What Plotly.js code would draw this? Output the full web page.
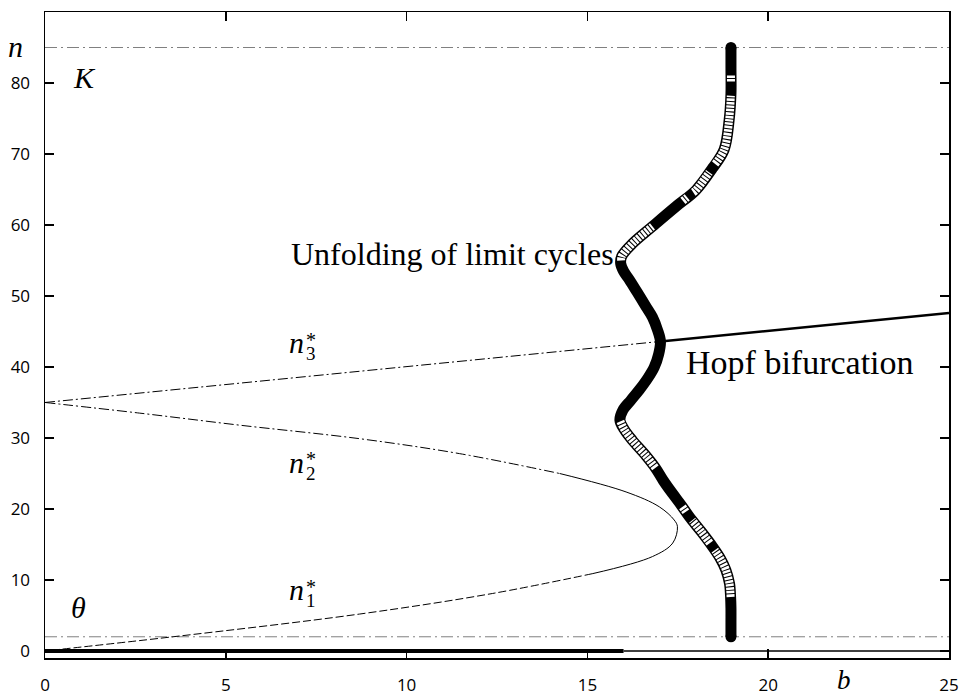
<!DOCTYPE html>
<html>
<head>
<meta charset="utf-8">
<script src="https://cdn.plot.ly/plotly-3.0.1.min.js"></script>
<style>html,body{margin:0;padding:0;background:#fff;}#chart{width:966px;height:697px;}</style>
</head>
<body>
<div id="chart"></div>
<script>
// ---- data ----
const xTicks = [0, 5, 10, 15, 20, 25];
const yTicks = [0, 10, 20, 30, 40, 50, 60, 70, 80, 90];
const K = 85;
const theta = 2;
const bSpan = [0, 25];

// n2* (upper) through the fold to n1* (lower)
const foldB = [0, 2.62, 5.39, 8.70, 11.46, 14.23, 16.07, 16.99, 17.40, 17.49, 17.36, 16.80, 15.15, 12.38, 8.70, 3.54, 0];
const foldN = [35, 33.5, 31.8, 29.9, 27.8, 25.0, 22.4, 20.3, 18.45, 17.5, 15.2, 13.3, 10.9, 8.1, 5.2, 2.0, 0];

// n3* line
const n3B = [0, 17.02, 25];
const n3N = [35, 43.6, 47.6];

// trivial equilibrium n = 0
const zeroB = [0, 16, 25];
const zeroN = [0, 0, 0];

// limit cycle amplitude branch
const cycN = [2.0, 4, 6, 7.6, 9.5, 11.4, 13.0, 14.7, 16.8, 18.9, 20.5, 22.2, 24.0, 25.8, 27.5, 29.7, 31.2, 32.5, 33.9, 35.3, 36.8, 38.5, 40.0, 41.8, 43.6, 45.2, 47.0, 48.5, 50.5, 52.3, 53.5, 54.6, 55.6, 57.4, 59.8, 62.6, 64.9, 68.0, 70.6, 74.8, 78.5, 82.0, 85.0];
const cycB = [18.97, 18.97, 18.97, 18.96, 18.93, 18.83, 18.68, 18.46, 18.15, 17.82, 17.6, 17.35, 17.1, 16.88, 16.62, 16.24, 16.02, 15.9, 15.98, 16.2, 16.44, 16.68, 16.85, 16.97, 17.02, 16.94, 16.8, 16.62, 16.38, 16.16, 16.0, 15.92, 15.95, 16.25, 16.8, 17.45, 18.0, 18.46, 18.78, 18.92, 18.97, 18.97, 18.97];
// n-intervals drawn as open circles (unstable)
const openRanges = [[7.6, 14.2], [15.2, 18.4], [19.6, 20.3], [25.8, 32.5], [55.0, 59.8], [63.4, 63.9], [64.6, 67.4], [68.6, 78.2], [80.2, 81.2]];

// ---- build ----
function slice(a, i, j) { return a.slice(i, j + 1); }
function interpB(n) {
  for (let i = 0; i < cycN.length - 1; i++) {
    if (n >= cycN[i] && n <= cycN[i + 1]) {
      const t = (n - cycN[i]) / (cycN[i + 1] - cycN[i]);
      return cycB[i] + t * (cycB[i + 1] - cycB[i]);
    }
  }
  return cycB[cycB.length - 1];
}
function subCurve(lo, hi) {
  const xs = [interpB(lo)], ys = [lo];
  for (let i = 0; i < cycN.length; i++) {
    if (cycN[i] > lo && cycN[i] < hi) { xs.push(cycB[i]); ys.push(cycN[i]); }
  }
  xs.push(interpB(hi)); ys.push(hi);
  return {xs, ys};
}

const traces = [];
const grayDD = '12px,4px,2px,4px';
traces.push({x: bSpan, y: [K, K], mode: 'lines', line: {color: '#808080', width: 1, dash: grayDD}});
traces.push({x: bSpan, y: [theta, theta], mode: 'lines', line: {color: '#808080', width: 1, dash: grayDD}});

traces.push({x: slice(zeroB, 0, 1), y: slice(zeroN, 0, 1), mode: 'lines', line: {color: 'black', width: 4}});
traces.push({x: slice(zeroB, 1, 2), y: slice(zeroN, 1, 2), mode: 'lines', line: {color: 'black', width: 1.5}});

traces.push({x: slice(foldB, 0, 5), y: slice(foldN, 0, 5), mode: 'lines', line: {color: 'black', width: 1, dash: '10px,3px,2px,3px', shape: 'spline'}});
traces.push({x: slice(foldB, 5, 12), y: slice(foldN, 5, 12), mode: 'lines', line: {color: 'black', width: 1, shape: 'spline'}});
traces.push({x: slice(foldB, 12, 16), y: slice(foldN, 12, 16), mode: 'lines', line: {color: 'black', width: 1, dash: '8px,3px', shape: 'spline'}});

traces.push({x: slice(n3B, 0, 1), y: slice(n3N, 0, 1), mode: 'lines', line: {color: 'black', width: 1, dash: '10px,3px,2px,3px'}});
traces.push({x: slice(n3B, 1, 2), y: slice(n3N, 1, 2), mode: 'lines', line: {color: 'black', width: 2.5}});

traces.push({x: cycB, y: cycN, mode: 'lines', line: {color: 'black', width: 11, shape: 'spline'}});
openRanges.forEach(r => {
  const c = subCurve(r[0], r[1]);
  traces.push({x: c.xs, y: c.ys, mode: 'lines', line: {color: 'white', width: 8, dash: '2.5px,1px', shape: 'spline'}});
});
traces.push({x: [cycB[0], cycB[cycB.length - 1]], y: [cycN[0], cycN[cycN.length - 1]], mode: 'markers', marker: {color: 'black', size: 11}});

const serif = 'Liberation Serif, Times New Roman, serif';
function txt(x, y, text, size, extra) {
  return Object.assign({x: x, y: y, xref: 'x', yref: 'y', text: text, showarrow: false,
    xanchor: 'center', yanchor: 'middle',
    font: {family: serif, size: size, color: 'black'}}, extra || {});
}
const annotations = [
  txt(11.27, 55.9, 'Unfolding of limit cycles', 32),
  txt(20.88, 40.6, 'Hopf bifurcation', 34),
  txt(1.1, 80.8, '<i>K</i>', 30),
  txt(0.94, 6.06, '<i>θ</i>', 30),
  txt(6.96, 43.4, '<i>n</i>', 30),
  txt(6.96, 43.4, '*', 20, {xshift: 14, yshift: 3}),
  txt(6.96, 43.4, '3', 19, {xshift: 14, yshift: -11}),
  txt(6.96, 26.6, '<i>n</i>', 30),
  txt(6.96, 26.6, '*', 20, {xshift: 14, yshift: 3}),
  txt(6.96, 26.6, '2', 19, {xshift: 14, yshift: -11}),
  txt(6.96, 8.6, '<i>n</i>', 30),
  txt(6.96, 8.6, '*', 20, {xshift: 14, yshift: 3}),
  txt(6.96, 8.6, '1', 19, {xshift: 14, yshift: -11}),
  {x: -0.033, y: 85.1, xref: 'paper', yref: 'y', xanchor: 'center', yanchor: 'middle', text: '<i>n</i>', showarrow: false, font: {family: serif, size: 30, color: 'black'}},
  {x: 22.1, y: -0.0604, xref: 'x', yref: 'paper', xanchor: 'center', yanchor: 'bottom', text: '<i>b</i>', showarrow: false, font: {family: serif, size: 27, color: 'black'}}
];

const axisCommon = {
  showline: true, linecolor: 'black', linewidth: 1.5, mirror: 'ticks',
  ticks: 'inside', ticklen: 9, tickwidth: 1.5, tickcolor: 'black',
  showgrid: false, zeroline: false,
  tickfont: {family: 'Open Sans, sans-serif', size: 17, color: 'black'}
};
const layout = {
  width: 966, height: 697,
  margin: {l: 45, r: 17, t: 12, b: 39},
  paper_bgcolor: 'white', plot_bgcolor: 'white',
  showlegend: false,
  xaxis: Object.assign({}, axisCommon, {range: [0, 25], tickmode: 'array', tickvals: xTicks, ticktext: xTicks.map(String), ticklabelstandoff: 11}),
  yaxis: Object.assign({}, axisCommon, {range: [-0.99, 90], tickmode: 'array', tickvals: yTicks, ticktext: yTicks.map(String), ticklabelstandoff: 10}),
  annotations: annotations
};
Plotly.newPlot('chart', traces, layout, {staticPlot: true});
</script>
</body>
</html>
